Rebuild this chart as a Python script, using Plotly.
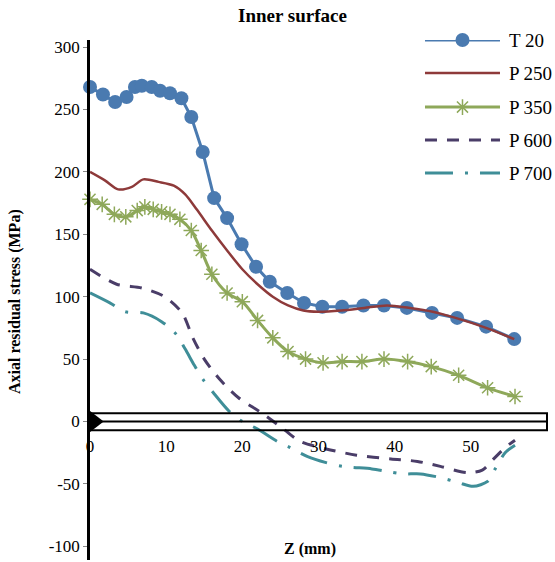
import plotly.graph_objects as go

# ---- data ----
t20_x = [0, 1.7, 3.3, 4.8, 5.9, 6.8, 8.1, 9.2, 10.5, 12.0, 13.3, 14.8, 16.3, 18.0, 19.9, 21.8, 23.6, 25.9, 28.1, 30.5, 33.1, 35.9, 38.6, 41.6, 44.9, 48.2, 52.0, 55.7]
t20_y = [268, 262, 256, 260, 268, 269, 268, 265, 263, 259, 244, 216, 179, 163, 142, 124, 112, 103, 95, 92, 92, 93, 93, 91, 87, 83, 76, 66]

p250_x = [0, 2, 3.7, 5.5, 7, 9, 11, 12.5, 14, 16, 18, 20, 22, 24, 26, 28, 30, 33, 36, 39, 42, 45, 48, 52, 55.7]
p250_y = [200, 193, 186, 188, 194, 192, 189, 182, 170, 153, 137, 122, 110, 100, 93, 89, 88, 89, 91, 93, 91, 88, 83, 75, 66]

p350_x = [0, 1.6, 3.2, 4.7, 6.2, 7.2, 8.3, 9.4, 10.5, 11.8, 13.3, 14.6, 16.0, 18.0, 20.0, 22.0, 24.0, 26.0, 28.3, 30.6, 33.1, 35.7, 38.6, 41.7, 44.8, 48.4, 52.2, 55.8]
p350_y = [178, 174, 166, 164, 169, 172, 170, 168, 166, 162, 153, 137, 118, 103, 96, 81, 67, 56, 50, 47, 48, 48, 50, 48, 44, 37, 27, 20]

p600_x = [0, 3.5, 6.8, 9.8, 12.1, 13.5, 15, 17, 19.5, 22.5, 25.4, 27.6, 31, 35, 39.5, 43, 46, 49.5, 51.5, 53, 54.5, 55.8]
p600_y = [122, 110, 107, 100, 87, 67, 50, 34, 19, 7, -6, -16, -22, -27, -30, -32, -36, -41, -39, -30, -21, -15]

p700_x = [0, 2.6, 4.6, 7, 9.4, 11.3, 12.5, 13.7, 14.8, 16.2, 18.3, 20, 22, 24.6, 26.3, 28.5, 31, 33.2, 37, 39, 41, 43.4, 46, 48.4, 50.3, 52.2, 53.2, 54.5, 55.8]
p700_y = [103, 95, 88, 87, 80, 70, 58, 45, 34, 23, 8, 0, -6, -16, -21, -28, -33, -36, -38, -40, -42, -42, -45, -49, -52, -48, -38, -25, -19]

x_ticks = [0, 10, 20, 30, 40, 50, 60]
y_ticks = [-100, -50, 0, 50, 100, 150, 200, 250, 300]

SERIF = "Liberation Serif"
C_T20 = "#4a7ab0"
C_250 = "#8e3a3a"
C_350 = "#8ea85a"
C_600 = "#4a3d68"
C_700 = "#3f8e98"

series = [
    dict(name="T 20", x=t20_x, y=t20_y, color=C_T20, width=3, dash="solid", shape="linear",
         marker=dict(symbol="circle", size=14, color=C_T20)),
    dict(name="P 250", x=p250_x, y=p250_y, color=C_250, width=2.5, dash="solid", shape="spline", marker=None),
    dict(name="P 350", x=p350_x, y=p350_y, color=C_350, width=3, dash="solid", shape="spline",
         marker=dict(symbol="asterisk-open", size=13, color=C_350, line=dict(color=C_350, width=1.5))),
    dict(name="P 600", x=p600_x, y=p600_y, color=C_600, width=3, dash="12px,10px", shape="spline", marker=None),
    dict(name="P 700", x=p700_x, y=p700_y, color=C_700, width=3, dash="28px,12px,3px,12px", shape="spline", marker=None),
]

fig = go.Figure()

for s in series:
    fig.add_trace(go.Scatter(
        x=s["x"], y=s["y"], name=s["name"],
        mode="lines+markers" if s["marker"] else "lines",
        line=dict(color=s["color"], width=s["width"], dash=s["dash"], shape=s["shape"], smoothing=0.8),
        marker=s["marker"] if s["marker"] else None,
        showlegend=False, cliponaxis=False,
    ))

# origin marker (black triangle at axis origin)
fig.add_trace(go.Scatter(x=[0.35], y=[0], mode="markers",
                         marker=dict(symbol="triangle-right", size=22, color="black"),
                         showlegend=False, cliponaxis=False, hoverinfo="skip"))

# manual legend on an overlay axis in [0,1] space
leg_rows = [1.0, 0.9365, 0.871, 0.8077, 0.744]
lx0, lx1, ltxt = 0.7204, 0.8817, 0.897
for s, ry in zip(series, leg_rows):
    fig.add_trace(go.Scatter(
        x=[lx0, lx1], y=[ry, ry], mode="lines", xaxis="x2", yaxis="y2",
        line=dict(color=s["color"], width=s["width"], dash=s["dash"]),
        showlegend=False, cliponaxis=False, hoverinfo="skip"))
    if s["marker"]:
        fig.add_trace(go.Scatter(
            x=[(lx0 + lx1) / 2], y=[ry], mode="markers", xaxis="x2", yaxis="y2",
            marker=s["marker"], showlegend=False, cliponaxis=False, hoverinfo="skip"))
    fig.add_annotation(x=ltxt, y=ry, xref="x2", yref="y2", text=s["name"], showarrow=False,
                       xanchor="left", yanchor="middle", font=dict(family=SERIF, size=19, color="black"))

# x "axis" box and zero line
fig.add_shape(type="rect", x0=0, x1=60, y0=-7, y1=6.5, xref="x", yref="y",
              line=dict(color="black", width=2), fillcolor="rgba(0,0,0,0)", layer="above")
fig.add_shape(type="line", x0=0, x1=60, y0=0, y1=0, xref="x", yref="y",
              line=dict(color="black", width=2), layer="above")

fig.update_layout(
    width=555, height=562,
    margin=dict(l=90, r=0, t=40, b=2),
    paper_bgcolor="white", plot_bgcolor="white",
    showlegend=False,
    xaxis=dict(range=[0, 61.05], tickvals=x_ticks, ticktext=[str(v) for v in x_ticks],
               showgrid=False, zeroline=False, showline=False, ticks="",
               anchor="free", position=0.243,
               tickfont=dict(family=SERIF, size=17, color="black")),
    yaxis=dict(range=[-111, 305.7], tickvals=y_ticks, ticktext=[str(v) for v in y_ticks],
               showgrid=False, zeroline=False, showline=True, linecolor="black", linewidth=2.5,
               ticks="outside", ticklen=4, tickcolor="#888", tickwidth=1,
               tickfont=dict(family=SERIF, size=17, color="black")),
    xaxis2=dict(overlaying="x", range=[0, 1], visible=False, anchor="y2"),
    yaxis2=dict(overlaying="y", range=[0, 1], visible=False, anchor="x2"),
)

fig.add_annotation(text="<b>Inner surface</b>", xref="paper", yref="paper",
                   x=(292 - 90) / 465, y=(560 - 16) / 520, showarrow=False,
                   xanchor="center", yanchor="middle", font=dict(family=SERIF, size=19, color="black"))
fig.add_annotation(text="<b>Axial residual stress (MPa)</b>", xref="paper", yref="paper",
                   x=(15 - 90) / 465, y=(560 - 302) / 520, textangle=-90, showarrow=False,
                   xanchor="center", yanchor="middle", font=dict(family=SERIF, size=16, color="black"))
fig.add_annotation(text="<b>Z (mm)</b>", xref="paper", yref="paper",
                   x=(310 - 90) / 465, y=(560 - 549) / 520, showarrow=False,
                   xanchor="center", yanchor="middle", font=dict(family=SERIF, size=16, color="black"))

fig.write_html("out.html")
